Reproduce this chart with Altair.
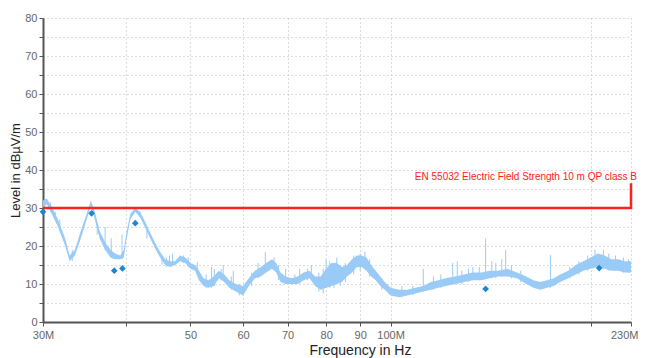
import altair as alt
import pandas as pd

# ---- data (frequency in MHz, level in dBuV/m) ----
band_freq = [30.0, 30.4, 31.0, 31.6, 32.4, 32.9, 33.5, 34.2, 34.9, 35.4, 35.9, 36.5, 37.2, 37.9,
             38.5, 39.2, 39.7, 40.0, 40.6, 41.3, 42.0, 42.7, 43.5, 44.2, 45.0, 45.8, 46.6, 47.4,
             48.2, 49.1, 50.0, 50.8, 51.5, 52.3, 53.2, 54.2, 55.2, 56.2, 57.2, 58.5, 60.0, 61.2,
             62.5, 63.8, 65.0, 66.3, 67.3, 68.3, 69.5, 71.0, 72.5, 74.0, 75.5, 77.0, 78.5, 80.0,
             81.5, 83.0, 84.5, 86.0, 87.5, 89.0, 90.5, 92.0, 93.5, 95.0, 96.5, 98.0, 100.0, 103.0,
             106.0, 109.0, 112.0, 115.0, 118.0, 121.0, 125.0, 129.0, 133.0, 137.0, 141.0, 145.0,
             150.0, 155.0, 160.0, 164.0, 168.0, 172.0, 176.0, 180.0, 185.0, 190.0, 195.0, 200.0,
             205.0, 210.0, 215.0, 220.0, 225.0, 230.0]
band_lo = [30.0, 31.0, 28.0, 25.0, 20.0, 16.0, 17.5, 22.0, 27.0, 30.5, 27.0, 22.0, 19.0, 17.0,
           16.5, 16.5, 17.0, 21.0, 27.0, 29.0, 27.5, 25.0, 22.0, 19.5, 17.0, 15.0, 14.5, 15.0,
           16.0, 15.5, 14.0, 13.5, 11.0, 9.5, 9.0, 9.5, 11.5, 10.5, 9.0, 8.0, 7.0, 9.5,
           11.5, 12.0, 13.0, 14.0, 13.0, 10.5, 10.0, 10.0, 10.0, 11.0, 11.5, 9.5, 8.5, 9.0,
           9.5, 10.0, 10.5, 12.0, 13.0, 14.5, 14.5, 13.5, 12.0, 11.0, 9.5, 8.5, 7.0, 6.5,
           7.0, 7.5, 8.0, 8.5, 9.0, 9.5, 10.0, 10.5, 11.0, 11.0, 11.5, 12.0,
           12.0, 11.5, 10.0, 9.0, 8.5, 9.0, 9.5, 10.5, 11.5, 12.5, 13.5, 14.0,
           14.5, 14.0, 13.5, 13.5, 13.0, 13.0]
band_hi = [32.0, 32.5, 30.0, 27.0, 22.0, 17.5, 19.0, 24.0, 28.5, 32.0, 29.0, 24.0, 21.0, 19.0,
           18.0, 17.5, 19.0, 23.0, 28.5, 30.0, 29.0, 26.5, 23.5, 21.0, 18.5, 16.5, 16.0, 16.0,
           17.5, 17.0, 15.5, 15.0, 13.5, 11.5, 11.0, 12.0, 13.5, 12.5, 11.0, 10.0, 9.5, 11.5,
           13.5, 14.5, 15.5, 16.5, 15.5, 13.0, 12.0, 11.5, 12.0, 13.0, 13.5, 12.0, 12.0, 14.0,
           15.5, 15.5, 14.5, 15.0, 16.5, 17.5, 17.5, 17.0, 15.0, 13.5, 12.0, 10.5, 9.0, 8.5,
           8.5, 9.0, 9.5, 10.5, 11.0, 11.5, 12.0, 12.5, 13.0, 13.0, 13.5, 13.5,
           14.0, 13.0, 12.0, 11.0, 10.5, 11.0, 11.5, 12.5, 13.5, 15.0, 16.0, 17.0,
           18.0, 17.5, 16.5, 16.5, 16.0, 16.0]

spike_freq = [31.3, 37.2, 38.0, 39.45, 46.5, 47.0, 51.2, 53.8, 54.3, 56.0, 58.0, 64.8, 66.8,
              69.5, 73.0, 76.0, 80.0, 83.0, 91.5, 112.0, 124.0, 126.0, 133.0, 139.0, 142.0,
              147.0, 149.0, 174.0, 209.0, 228.0,
              30.8, 31.8, 33.2, 36.2, 43.0, 45.3, 46.0, 48.8, 49.6, 52.8, 55.6, 57.6, 59.2,
              61.8, 63.2, 67.8, 71.8, 75.0, 78.0, 79.2, 81.0, 82.2, 84.0, 85.5, 88.0, 90.0,
              93.0, 97.0, 104.0, 108.0, 116.0, 119.0, 128.0, 131.0, 136.0, 144.0, 152.0,
              157.0, 186.0, 192.0, 198.0, 203.0, 213.0, 218.0, 224.0]
spike_lo = [27.0, 19.0, 17.0, 16.5, 14.5, 15.0, 12.0, 9.0, 9.5, 11.0, 8.5, 13.0, 14.0,
            10.0, 10.0, 11.5, 9.0, 10.0, 14.0, 8.0, 10.0, 10.0, 11.0, 11.5, 11.5,
            12.0, 12.0, 9.0, 14.0, 13.0,
            29.0, 24.0, 16.0, 23.0, 22.0, 15.0, 14.5, 15.5, 14.5, 9.0, 11.0, 8.5, 7.0,
            9.5, 11.5, 11.0, 10.0, 11.0, 8.0, 7.5, 9.0, 9.0, 9.5, 10.5, 12.5, 13.5,
            12.0, 8.5, 6.5, 7.0, 8.5, 9.0, 10.0, 10.5, 11.0, 11.5, 11.5,
            10.5, 11.5, 12.5, 13.5, 14.5, 13.5, 13.5, 13.0]
spike_hi = [29.0, 25.0, 22.0, 23.0, 17.5, 18.0, 15.8, 14.5, 14.0, 15.0, 13.5, 18.4, 17.0,
            14.0, 14.0, 15.0, 16.5, 17.0, 18.5, 14.0, 15.5, 16.0, 14.5, 22.0, 16.0,
            16.5, 19.0, 17.6, 19.0, 16.5,
            31.5, 27.0, 19.0, 26.0, 24.5, 17.5, 17.0, 17.5, 17.0, 12.5, 14.0, 12.0, 10.0,
            13.0, 15.5, 15.0, 12.5, 14.0, 13.0, 14.0, 16.0, 15.5, 15.0, 15.5, 17.5, 18.0,
            16.5, 11.5, 9.5, 9.5, 12.0, 12.5, 13.5, 14.0, 14.5, 15.5, 15.0,
            13.5, 14.5, 16.0, 17.5, 19.0, 18.0, 17.5, 17.0]

peak_freq = [30.0, 35.5, 38.4, 39.5, 41.3, 139.0, 206.0]
peak_level = [29.0, 28.6, 13.5, 14.1, 26.0, 8.7, 14.2]

limit_freq = [30.0, 230.0, 230.0]
limit_level = [30.0, 30.0, 36.5]
limit_name = "EN 55032 Electric Field Strength 10 m QP class B"

x_tick_values = [30, 40, 50, 60, 70, 80, 90, 100, 200, 230]
x_tick_labels = ["30M", "", "50", "60", "70", "80", "90", "100M", "", "230M"]
y_tick_values = list(range(0, 85, 5))
y_tick_labels = ["0", "", "10", "", "20", "", "30", "", "40", "", "50", "", "60", "", "70", "", "80"]

band_df = pd.DataFrame({"f": band_freq, "lo": band_lo, "hi": band_hi})
spike_df = pd.DataFrame({"f": spike_freq, "lo": spike_lo, "hi": spike_hi})
peak_df = pd.DataFrame({"f": peak_freq, "lo": peak_level})
limit_df = pd.DataFrame({"f": limit_freq, "lo": limit_level, "i": list(range(len(limit_freq)))})
label_df = pd.DataFrame({"f": [limit_freq[-1]], "lo": [37.4], "t": [limit_name]})


def label_expr(values, labels):
    return "".join(f"datum.value == {v} ? '{l}' : " for v, l in zip(values, labels)) + "''"


xscale = alt.Scale(type="log", domain=[30, 230], nice=False)
yscale = alt.Scale(domain=[0, 80], nice=False)

last_x = x_tick_values[-1]
font = "Liberation Sans"
x_axis = alt.Axis(
    values=x_tick_values, labelExpr=label_expr(x_tick_values, x_tick_labels),
    title="Frequency in Hz", titleFont=font, titleFontSize=14, titleFontWeight="normal",
    titleColor="#222", titleX=317, titleY=32, titleAnchor="middle", titleBaseline="alphabetic",
    labelFont=font, labelFontSize=11, labelColor="#666", labelFlush=False, labelOverlap=False,
    labelAlign={"condition": {"test": f"datum.value == {last_x}", "value": "right"}, "value": "center"},
    labelOffset={"condition": {"test": f"datum.value == {last_x}", "value": 7}, "value": 0},
    labelPadding=3, domainColor="#555", domainWidth=2, tickColor="#555", tickSize=4,
    grid=True, gridColor="#b8b8b8", gridDash=[1, 3], gridWidth=1,
)
y_axis = alt.Axis(
    values=y_tick_values, labelExpr=label_expr(y_tick_values, y_tick_labels),
    title="Level in dBµV/m", titleFont=font, titleFontSize=13, titleFontWeight="normal",
    titleColor="#222", titleX=-28, titleY=152, titleAngle=-90, titleAnchor="middle",
    titleAlign="center", titleBaseline="middle",
    labelFont=font, labelFontSize=11, labelColor="#666", labelPadding=2,
    domainColor="#555", domainWidth=2, tickColor="#555", tickSize=4,
    grid=True, gridColor="#b8b8b8", gridDash=[1, 3], gridWidth=1,
)

X = alt.X("f:Q", scale=xscale, axis=x_axis)
Y = alt.Y("lo:Q", scale=yscale, axis=y_axis)

trace_color = "#9acbf6"

band = alt.Chart(band_df).mark_area(color=trace_color, opacity=1, interpolate="linear").encode(
    x=X, y=Y, y2="hi:Q",
)
spikes = alt.Chart(spike_df).mark_rule(color=trace_color, strokeWidth=1).encode(
    x=X, y=Y, y2="hi:Q",
)
limit = alt.Chart(limit_df).mark_line(color="#ff2020", strokeWidth=2.5).encode(
    x=X, y=Y, order="i:Q",
)
peaks = alt.Chart(peak_df).mark_point(shape="diamond", filled=True, size=45, color="#1f86cc", opacity=1).encode(
    x=X, y=Y,
)
label = alt.Chart(label_df).mark_text(
    color="#ff2020", font=font, fontSize=10, align="right", baseline="alphabetic", dx=6
).encode(
    x=X, y=Y, text="t:N",
)

chart = alt.layer(band, spikes, limit, peaks, label).properties(
    width=588, height=304,
    autosize=alt.AutoSizeParams(type="none"),
    padding={"left": 35, "top": 10, "right": 7, "bottom": 36},
).configure_view(stroke=None)

chart.save("out.html", embed_options={"renderer": "svg", "actions": False})
